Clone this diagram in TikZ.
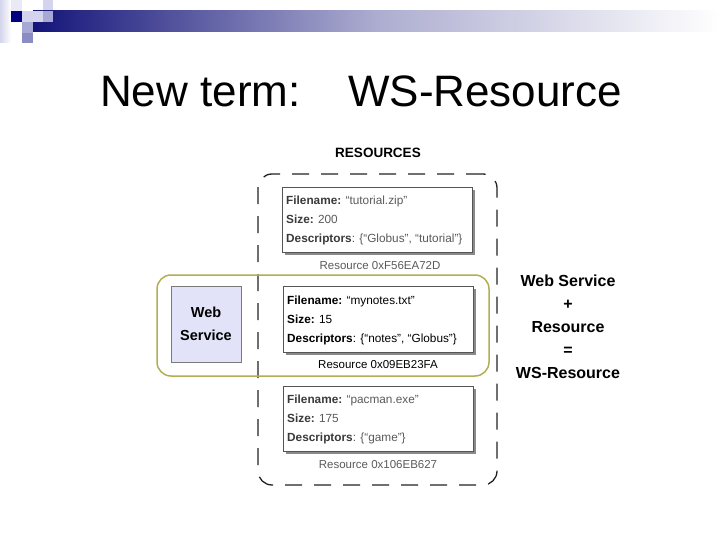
\documentclass[tikz,border=0pt]{standalone}
\usepackage{fontspec}
\setmainfont{Liberation Sans}
\definecolor{navy}{HTML}{14147A}
\definecolor{darksq}{HTML}{000080}
\definecolor{lavA}{HTML}{D4D4EC}
\definecolor{lavB}{HTML}{A8A8D4}
\definecolor{lavC}{HTML}{8C8CC4}
\definecolor{boxgray}{HTML}{555555}
\definecolor{shadowgray}{HTML}{8A8A8A}
\definecolor{labgray}{HTML}{3A3A3A}
\definecolor{valgray}{HTML}{5A5A5A}
\definecolor{dashcol}{HTML}{222222}
\definecolor{olivec}{HTML}{B4AE52}
\definecolor{wsfill}{HTML}{E2E2F8}
\definecolor{wsborder}{HTML}{7A7A7A}
\begin{document}
\begin{tikzpicture}[x=1pt,y=-1pt,
  resbox/.style={draw=boxgray, line width=0.9pt, fill=white, inner sep=0pt, anchor=north west,
    preaction={fill=shadowgray, transform canvas={shift={(3pt,-3pt)}}}},
  restext/.style={anchor=base west, inner sep=0pt, font=\fontsize{11.8}{13}\selectfont, text=valgray},
  restextdark/.style={restext, text=black},
  reslabel/.style={anchor=base, inner sep=0pt, font=\fontsize{11.5}{13}\selectfont, text=valgray},
  eqtext/.style={anchor=base, inner sep=0pt, font=\bfseries\fontsize{16}{18}\selectfont},
  titletext/.style={anchor=base west, inner sep=0pt, font=\fontsize{44}{50}\selectfont}
]
\useasboundingbox (0,0) rectangle (720,540);
% --- decoration top-left
\shade[left color=lavA, right color=white] (0,0) rectangle (11,43);
\fill[lavA!50] (11,0) rectangle (22,11);
\fill[darksq] (11,11) rectangle (22,22);
\fill[lavA] (22,11) rectangle (33,22);
\fill[lavA] (43,0) rectangle (53,11);
\fill[lavB] (22,22) rectangle (33,33);
\fill[lavC] (22,33) rectangle (33,43);
\shade[left color=navy, right color=white, middle color=navy!35] (33,11) rectangle (720,32);
\fill[lavA] (33,11) rectangle (43,22);
\fill[lavB] (43,11) rectangle (53,22);
% --- title
\node[titletext] (t1) at (100,107) {New term:};
\node[titletext] (t2) at (348,107) {WS-Resource};
% --- resources container
\node[inner sep=0pt, font=\bfseries\fontsize{13.5}{15}\selectfont] (reshead) at (378,153) {RESOURCES};
\node[draw=dashcol, line width=1.3pt, dash pattern=on 17pt off 12pt, rounded corners=14pt,
  minimum width=239pt, minimum height=311pt, inner sep=0pt] (resources) at (377.5,329.5) {};
% --- resource 1
\node[resbox, minimum width=190pt, minimum height=65pt] (r1) at (282,187) {};
\node[restext] (r1a) at (286,205) {{\bfseries\color{labgray}Filename:} “tutorial.zip”};
\node[restext] (r1b) at (286,224) {{\bfseries\color{labgray}Size:} 200};
\node[restext] (r1c) at (286,243) {{\bfseries\color{labgray}Descriptors}: \{“Globus”, “tutorial”\}};
\node[reslabel] (l1) at (380,269) {Resource 0xF56EA72D};
% --- WS-Resource group
\node[draw=olivec, line width=1.5pt, rounded corners=14pt, minimum width=332pt, minimum height=101pt, inner sep=0pt] (wsr) at (323,325.5) {};
\node[draw=wsborder, line width=0.8pt, fill=wsfill, minimum width=70pt, minimum height=76pt, inner sep=0pt, align=center,
  font=\bfseries\fontsize{14.5}{23}\selectfont] (ws) at (206,324) {Web\\Service};
% --- resource 2
\node[resbox, minimum width=190pt, minimum height=66pt] (r2) at (283,286) {};
\node[restextdark] (r2a) at (287,304) {{\bfseries Filename:} “mynotes.txt”};
\node[restextdark] (r2b) at (287,323) {{\bfseries Size:} 15};
\node[restextdark] (r2c) at (287,342) {{\bfseries Descriptors}: \{“notes”, “Globus”\}};
\node[reslabel, text=black] (l2) at (378,368) {Resource 0x09EB23FA};
% --- resource 3
\node[resbox, minimum width=190pt, minimum height=65pt] (r3) at (283,386) {};
\node[restext] (r3a) at (287,403) {{\bfseries\color{labgray}Filename:} “pacman.exe”};
\node[restext] (r3b) at (287,422) {{\bfseries\color{labgray}Size:} 175};
\node[restext] (r3c) at (287,441) {{\bfseries\color{labgray}Descriptors}: \{“game”\}};
\node[reslabel] (l3) at (378,468) {Resource 0x106EB627};
% --- equation
\node[eqtext] (e1) at (568,286) {Web Service};
\node[eqtext] (e2) at (568,309) {+};
\node[eqtext] (e3) at (568,332) {Resource};
\node[eqtext] (e4) at (568,355) {=};
\node[eqtext] (e5) at (568,378) {WS-Resource};
\end{tikzpicture}
\end{document}
